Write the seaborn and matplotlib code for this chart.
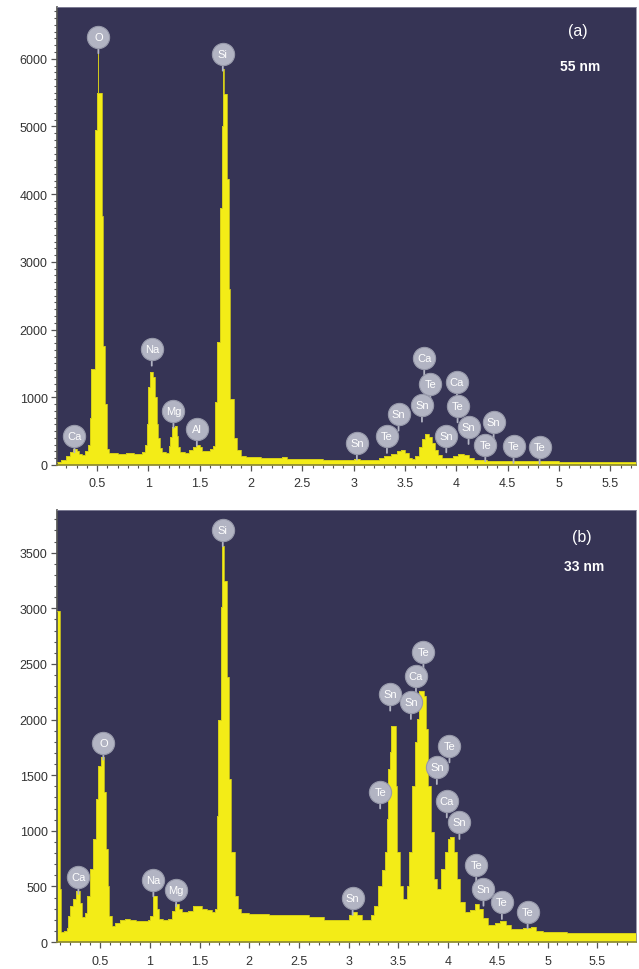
import numpy as np
import pandas as pd
import matplotlib
matplotlib.use("Agg")
import matplotlib.pyplot as plt
from matplotlib.ticker import MultipleLocator, FuncFormatter
import seaborn as sns

# ---------------- data ----------------
# Panel (a) 55 nm : step spectrum, energy (keV) of each channel start and counts
top_energy = [0.11, 0.15, 0.20, 0.24, 0.27, 0.30, 0.32, 0.35, 0.38, 0.41, 0.43, 0.445,
              0.48, 0.497, 0.505, 0.510, 0.546, 0.561, 0.575, 0.595, 0.62, 0.70, 0.78,
              0.86, 0.94, 0.97, 0.99, 1.00, 1.015, 1.045, 1.065, 1.08, 1.095, 1.11, 1.13,
              1.17, 1.20, 1.215, 1.23, 1.26, 1.275, 1.29, 1.31, 1.36, 1.40, 1.43, 1.46,
              1.50, 1.52, 1.56, 1.60, 1.634, 1.65, 1.673, 1.70, 1.715, 1.727, 1.733,
              1.764, 1.785, 1.797, 1.83, 1.86, 1.90, 1.95, 2.10, 2.25, 2.30, 2.35, 2.50,
              2.70, 2.90, 3.00, 3.06, 3.15, 3.25, 3.30, 3.36, 3.42, 3.46, 3.50, 3.54,
              3.57, 3.60, 3.64, 3.67, 3.69, 3.73, 3.76, 3.79, 3.82, 3.86, 3.92, 3.97,
              4.02, 4.07, 4.12, 4.17, 4.30, 4.50, 4.80, 5.00, 5.40, 5.75]
top_counts = [40, 70, 130, 190, 230, 200, 160, 150, 200, 300, 700, 1420,
              4950, 5500, 6200, 5500, 3680, 1760, 900, 230, 180, 160, 175,
              165, 185, 300, 600, 1150, 1370, 1300, 1000, 600, 400, 250, 190,
              175, 280, 420, 560, 580, 430, 260, 185, 180, 220, 270, 300,
              260, 200, 210, 230, 280, 930, 1815, 3800, 5000, 5850, 5480,
              4225, 2600, 975, 400, 220, 140, 120, 110, 105, 118, 95, 85,
              80, 75, 90, 80, 75, 100, 130, 160, 200, 226, 180, 110,
              90, 140, 260, 380, 458, 420, 320, 220, 150, 110, 100, 140,
              160, 150, 110, 80, 65, 60, 55, 45, 40, 40]

# Panel (b) 33 nm
bottom_energy = [0.07, 0.097, 0.11, 0.14, 0.17, 0.18, 0.20, 0.23, 0.26, 0.30, 0.32, 0.35,
                 0.37, 0.40, 0.43, 0.46, 0.48, 0.505, 0.54, 0.56, 0.575, 0.59, 0.62,
                 0.65, 0.70, 0.75, 0.80, 0.86, 0.92, 0.98, 1.00, 1.03, 1.07, 1.09, 1.13,
                 1.18, 1.22, 1.25, 1.29, 1.32, 1.38, 1.43, 1.48, 1.53, 1.58, 1.63, 1.66,
                 1.675, 1.69, 1.712, 1.73, 1.745, 1.78, 1.797, 1.82, 1.855, 1.89, 1.92,
                 2.0, 2.2, 2.4, 2.6, 2.75, 2.95, 3.00, 3.03, 3.08, 3.13, 3.18, 3.22,
                 3.26, 3.30, 3.34, 3.365, 3.385, 3.40, 3.415, 3.43, 3.475, 3.49, 3.52,
                 3.545, 3.59, 3.61, 3.635, 3.67, 3.69, 3.71, 3.76, 3.78, 3.80, 3.83,
                 3.86, 3.89, 3.93, 3.97, 4.00, 4.02, 4.06, 4.09, 4.12, 4.17, 4.22, 4.27,
                 4.31, 4.35, 4.40, 4.47, 4.52, 4.58, 4.63, 4.75, 4.83, 4.88, 4.95, 5.2,
                 5.5, 5.89]
bottom_counts = [2980, 476, 90, 100, 130, 237, 326, 386, 461, 350, 222, 260,
                 416, 656, 926, 1286, 1585, 1660, 1348, 836, 500, 237, 147,
                 170, 200, 210, 200, 185, 190, 200, 237, 416, 297, 207, 197,
                 210, 280, 342, 300, 270, 280, 320, 326, 300, 290, 270, 300,
                 1135, 2000, 3009, 3563, 3248, 2380, 1465, 806, 416, 297, 265,
                 255, 245, 240, 225, 195, 200, 240, 267, 240, 200, 195, 240,
                 326, 506, 650, 806, 1106, 1555, 1706, 1945, 1405, 806, 506,
                 387, 500, 806, 1405, 1800, 2005, 2259, 2214, 1915, 1405, 989,
                 566, 476, 656, 806, 926, 941, 806, 566, 357, 267, 290, 342,
                 300, 220, 150, 170, 192, 150, 117, 125, 132, 102, 87, 80,
                 78, 72]

# element badges
top_labels = ['Ca', 'O', 'Na', 'Mg', 'Al', 'Si', 'Sn', 'Te', 'Sn', 'Sn', 'Te', 'Ca',
              'Ca', 'Te', 'Sn', 'Sn', 'Sn', 'Te', 'Te', 'Te']
top_label_energy = [0.28, 0.513, 1.033, 1.244, 1.472, 1.725, 3.031, 3.324, 3.437, 3.665,
                    3.746, 3.687, 4.006, 4.012, 3.902, 4.119, 4.363, 4.282, 4.557, 4.811]
top_label_counts = [433, 6327, 1713, 793, 532, 6070, 325, 424, 753, 886,
                    1196, 1576, 1221, 876, 433, 556, 630, 300, 276, 266]

bottom_labels = ['Ca', 'O', 'Na', 'Mg', 'Si', 'Sn', 'Te', 'Sn', 'Sn', 'Ca', 'Te', 'Sn',
                 'Te', 'Ca', 'Sn', 'Te', 'Sn', 'Te', 'Te']
bottom_label_energy = [0.282, 0.533, 1.036, 1.265, 1.734, 3.04, 3.317, 3.418, 3.626,
                       3.677, 3.752, 3.887, 4.014, 3.987, 4.114, 4.283, 4.356, 4.541, 4.80]
bottom_label_counts = [582, 1789, 560, 470, 3707, 393, 1351, 2230, 2155,
                       2394, 2610, 1570, 1765, 1270, 1076, 692, 476, 357, 272]

panel_tags = ['(a)', '(b)']
panel_sizes = ['55 nm', '33 nm']
top_yticks = [0, 1000, 2000, 3000, 4000, 5000, 6000]
bottom_yticks = [0, 500, 1000, 1500, 2000, 2500, 3000, 3500]
xticks = [0.5, 1, 1.5, 2, 2.5, 3, 3.5, 4, 4.5, 5, 5.5]

# ---------------- style ----------------
sns.set_theme(style="ticks")
plt.rcParams['font.family'] = ['Liberation Sans', 'DejaVu Sans']

BG = '#363455'
YEL = '#f3ec17'
EDGE = '#cfc81a'
BADGE = '#b2b4c3'
BADGE_EDGE = '#9799aa'

fig = plt.figure(figsize=(6.39, 9.70), dpi=100)
fig.patch.set_facecolor('white')
ax1 = fig.add_axes([0.0897, 0.5196, 0.9056, 0.4722])
ax2 = fig.add_axes([0.0897, 0.0278, 0.9056, 0.4454])


def draw_panel(ax, energy, counts, labels, lab_e, lab_c, xlim, ylim, yticks):
    ax.set_facecolor(BG)
    e = list(energy) + [xlim[1] + 0.05]
    c = list(counts) + [counts[-1]]
    df = pd.DataFrame({'energy': e, 'counts': c})
    ax.fill_between(df['energy'], 0, df['counts'], step='post', color=YEL, lw=0, zorder=2)
    sns.lineplot(data=df, x='energy', y='counts', drawstyle='steps-post', color=EDGE,
                 lw=0.6, estimator=None, sort=False, ax=ax, zorder=3)
    for lab, le, lc in zip(labels, lab_e, lab_c):
        ax.annotate('', xy=(le, lc), xytext=(0, -12), textcoords='offset points',
                    arrowprops=dict(arrowstyle='-', color=BADGE, lw=1.3,
                                    shrinkA=0, shrinkB=0), zorder=4)
        ax.plot([le], [lc], marker='o', ms=16, mfc=BADGE, mec=BADGE_EDGE, mew=0.8,
                zorder=5, ls='none')
        ax.text(le, lc, lab, ha='center', va='center', color='white', fontsize=8,
                zorder=6)
    ax.set_xlim(*xlim)
    ax.set_ylim(*ylim)
    ax.set_xticks(xticks)
    ax.set_yticks(yticks)
    ax.xaxis.set_major_formatter(FuncFormatter(lambda v, p: f'{v:g}'))
    ax.xaxis.set_minor_locator(MultipleLocator(0.1))
    ax.yaxis.set_minor_locator(MultipleLocator(100))
    ax.tick_params(which='major', length=4, width=0.9, color='#555555',
                   labelsize=9, labelcolor='#333333', pad=3)
    ax.tick_params(which='minor', length=2.5, width=0.8, color='#555555')
    ax.tick_params(axis='x', which='major', pad=5)
    ax.set_xlabel('')
    ax.set_ylabel('')
    for s in ['top', 'right']:
        ax.spines[s].set_color('#8a8aa0')
        ax.spines[s].set_linewidth(0.6)
    ax.spines['left'].set_color('#555555')
    ax.spines['bottom'].set_color('#8c8a30')
    return ax


draw_panel(ax1, top_energy, top_counts, top_labels, top_label_energy, top_label_counts,
           (0.113, 5.75), (0, 6765), top_yticks)
draw_panel(ax2, bottom_energy, bottom_counts, bottom_labels, bottom_label_energy,
           bottom_label_counts, (0.07, 5.89), (0, 3884), bottom_yticks)

ax1.text(0.900, 0.948, panel_tags[0], transform=ax1.transAxes, ha='center', va='center',
         color='white', fontsize=11.5)
ax1.text(0.903, 0.871, panel_sizes[0], transform=ax1.transAxes, ha='center', va='center',
         color='white', fontsize=10, fontweight='bold')
ax2.text(0.906, 0.9375, panel_tags[1], transform=ax2.transAxes, ha='center', va='center',
         color='white', fontsize=11.5)
ax2.text(0.911, 0.870, panel_sizes[1], transform=ax2.transAxes, ha='center', va='center',
         color='white', fontsize=10, fontweight='bold')

fig.savefig('out.png', dpi=100, facecolor='white')
